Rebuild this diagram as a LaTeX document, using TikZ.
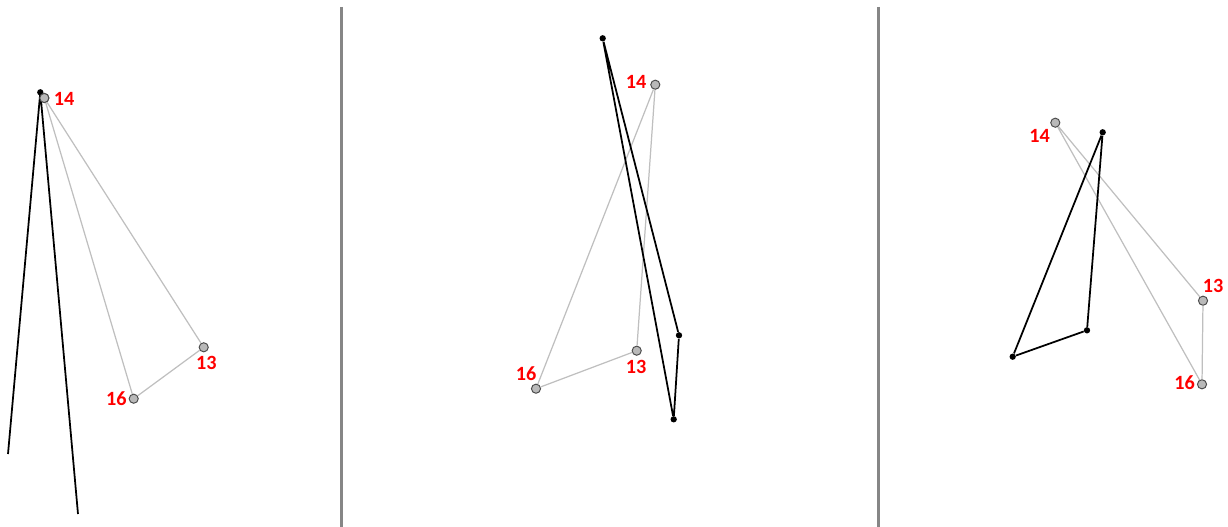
\documentclass[tikz,border=0pt]{standalone}
\usepackage{fontspec}
\setmainfont{Carlito}
\usetikzlibrary{positioning}

\begin{document}
\begin{tikzpicture}[x=0.02cm,y=-0.02cm]

	% styles
	\tikzset{
		bone/.style = {draw=black, line width=1pt},
		ghost/.style = {draw=gray!50, line width=0.7pt},
		joint/.style = {
			circle, fill=black,
			inner sep=0pt, minimum size=3.6pt
		},
		marker/.style = {
			circle, draw=black!70, fill=gray!55,
			line width=0.55pt, inner sep=0pt, minimum size=5.2pt
		},
		tag/.style = {text=red, inner sep=0pt, font=\bfseries\fontsize{11.5}{13}\selectfont},
		divider/.style = {draw=gray!95, line width=1.6pt}
	}

	\useasboundingbox (0,0) rectangle (1228,527);

	% dividers
	\coordinate (dA1) at (341.5,7);
	\coordinate (dA2) at (341.5,527);
	\coordinate (dB1) at (878.5,7);
	\coordinate (dB2) at (878.5,527);
	\draw[divider] (dA1) -- (dA2);
	\draw[divider] (dB1) -- (dB2);

	% panel 1
	\node[joint] (aTop) at (40.3,92.3) {};
	\coordinate (aEndL) at (8,454);
	\coordinate (aEndR) at (78,514);
	\node[marker] (a14) at (44.3,98) {};
	\node[marker] (a13) at (203.7,347.3) {};
	\node[marker] (a16) at (133.7,398.7) {};
	\draw[ghost] (a14) -- (a13) -- (a16) -- (a14);
	\draw[bone] (aEndL) -- (aTop.center) -- (aEndR);
	\node[marker] at (a14) {};
	\node[tag] (a14t) at (64,99) {14};
	\node[tag] (a13t) at (206.3,363) {13};
	\node[tag] (a16t) at (116.3,398.5) {16};

	% panel 2
	\node[joint] (bTop) at (602.7,38.3) {};
	\node[joint] (bMid) at (679,335.3) {};
	\node[joint] (bBot) at (673.7,419.3) {};
	\node[marker] (b14) at (655.3,84.7) {};
	\node[marker] (b13) at (636.7,350.7) {};
	\node[marker] (b16) at (536,388.7) {};
	\draw[ghost] (b14) -- (b13) -- (b16) -- (b14);
	\draw[bone] (bTop) -- (bMid) -- (bBot) -- (bTop);
	\node[tag] (b14t) at (636,81.7) {14};
	\node[tag] (b13t) at (636,367) {13};
	\node[tag] (b16t) at (526,373.3) {16};

	% panel 3
	\node[joint] (cTop) at (1102.7,132.3) {};
	\node[joint] (cMid) at (1087,330.3) {};
	\node[joint] (cLow) at (1012.7,356.7) {};
	\node[marker] (c14) at (1055.3,122.7) {};
	\node[marker] (c13) at (1203,300.7) {};
	\node[marker] (c16) at (1202,384.3) {};
	\draw[ghost] (c14) -- (c13) -- (c16) -- (c14);
	\draw[bone] (cTop) -- (cMid) -- (cLow) -- (cTop);
	\node[tag] (c14t) at (1039.5,135.5) {14};
	\node[tag] (c13t) at (1213,286.3) {13};
	\node[tag] (c16t) at (1184.5,383) {16};

\end{tikzpicture}
\end{document}
